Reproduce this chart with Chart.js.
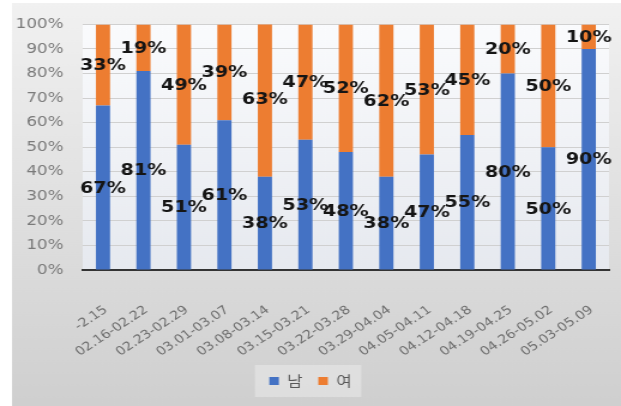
<!DOCTYPE html>
<html>
<head>
<meta charset="utf-8">
<script src="https://cdn.jsdelivr.net/npm/chart.js@4"></script>
<style>
  html, body { margin: 0; padding: 0; background: #fff; overflow: hidden; }
  /* the reference is a horizontally stretched screenshot, so stretch the canvas the same way */
  #wrap { width: 518px; height: 406px; transform: scaleX(1.1988); transform-origin: 0 0; }
</style>
</head>
<body>
<div id="wrap"><canvas id="chart" width="518" height="406"></canvas></div>
<script>
// 주간 성별 비율 (%)
const categories = ['-2.15', '02.16-02.22', '02.23-02.29', '03.01-03.07', '03.08-03.14', '03.15-03.21',
  '03.22-03.28', '03.29-04.04', '04.05-04.11', '04.12-04.18', '04.19-04.25', '04.26-05.02', '05.03-05.09'];
const maleValues   = [67, 81, 51, 61, 38, 53, 48, 38, 47, 55, 80, 50, 90];
const femaleValues = [33, 19, 49, 39, 63, 47, 52, 62, 53, 45, 20, 50, 10];
const seriesNames  = ['남', '여'];
const yTickStep = 10;
const yMax = 100;

// 배경 (패널 그라데이션 + 플롯 영역 + 범례 상자)
const panelBg = {
  id: 'panelBg',
  beforeDraw(chart) {
    const { ctx, width, height, chartArea: a } = chart;
    ctx.save();
    ctx.fillStyle = '#ffffff';
    ctx.fillRect(0, 0, width, height);
    const g = ctx.createLinearGradient(0, 3, 0, height);
    g.addColorStop(0, '#f1f1f1');
    g.addColorStop(1, '#cfcfcf');
    ctx.fillStyle = g;
    ctx.fillRect(10, 3, width - 10, height - 3);

    const p = ctx.createLinearGradient(0, a.top, 0, a.bottom);
    p.addColorStop(0, '#fafbfd');
    p.addColorStop(1, '#e6e9ef');
    ctx.fillStyle = p;
    ctx.fillRect(a.left, a.top, a.width, a.height);

    const boxes = chart.legend && chart.legend.legendHitBoxes;
    if (boxes && boxes.length) {
      const left = Math.min(...boxes.map(b => b.left)) - 12;
      const right = Math.max(...boxes.map(b => b.left + b.width)) + 8;
      const top = Math.min(...boxes.map(b => b.top)) - 9;
      const bottom = Math.max(...boxes.map(b => b.top + b.height)) + 9;
      ctx.fillStyle = 'rgba(255,255,255,0.3)';
      ctx.fillRect(left, top, right - left, bottom - top);
    }
    ctx.restore();
  }
};

// 막대 조각 가운데에 값 표시
const segmentLabels = {
  id: 'segmentLabels',
  afterDatasetsDraw(chart) {
    const ctx = chart.ctx;
    ctx.save();
    ctx.font = 'bold 16px "DejaVu Sans"';
    ctx.fillStyle = '#151515';
    ctx.textAlign = 'center';
    ctx.textBaseline = 'middle';
    chart.data.datasets.forEach((ds, i) => {
      chart.getDatasetMeta(i).data.forEach((bar, j) => {
        const { x, y, base } = bar.getProps(['x', 'y', 'base'], true);
        ctx.fillText(ds.data[j] + '%', x, (y + base) / 2 + 1);
      });
    });
    ctx.restore();
  }
};

new Chart(document.getElementById('chart'), {
  type: 'bar',
  data: {
    labels: categories,
    datasets: [
      { label: seriesNames[0], data: maleValues, backgroundColor: '#4472C4', barPercentage: 0.35, categoryPercentage: 1 },
      { label: seriesNames[1], data: femaleValues, backgroundColor: '#ED7D31', barPercentage: 0.35, categoryPercentage: 1 }
    ]
  },
  options: {
    responsive: false,
    animation: false,
    layout: { padding: { left: 10, right: 10, top: 23, bottom: 8 } },
    scales: {
      x: {
        stacked: true,
        grid: { display: false },
        border: { color: '#333', width: 2 },
        ticks: {
          color: '#6e6e6e', font: { family: 'DejaVu Sans', size: 12 },
          minRotation: 38, maxRotation: 38, autoSkip: false, padding: 25, labelOffset: 2.5
        },
        afterFit: (scale) => {
          scale.height = 91;
          scale.paddingLeft = 0;
          scale.paddingRight = 0;
        }
      },
      y: {
        stacked: true,
        min: 0, max: yMax,
        grid: { color: '#d0d0d0', drawTicks: false },
        border: { display: false },
        ticks: {
          stepSize: yTickStep, color: '#7a7a7a', padding: 16,
          font: { family: 'DejaVu Sans', size: 14 },
          callback: (v) => v + '%'
        },
        afterFit: (scale) => { scale.width = 59; }
      }
    },
    plugins: {
      legend: {
        position: 'bottom',
        labels: {
          color: '#595959', boxWidth: 8, boxHeight: 8, padding: 13,
          font: { family: '"Noto Sans CJK KR"', size: 14 }
        }
      },
      tooltip: { enabled: false }
    }
  },
  plugins: [panelBg, segmentLabels]
});
</script>
</body>
</html>
